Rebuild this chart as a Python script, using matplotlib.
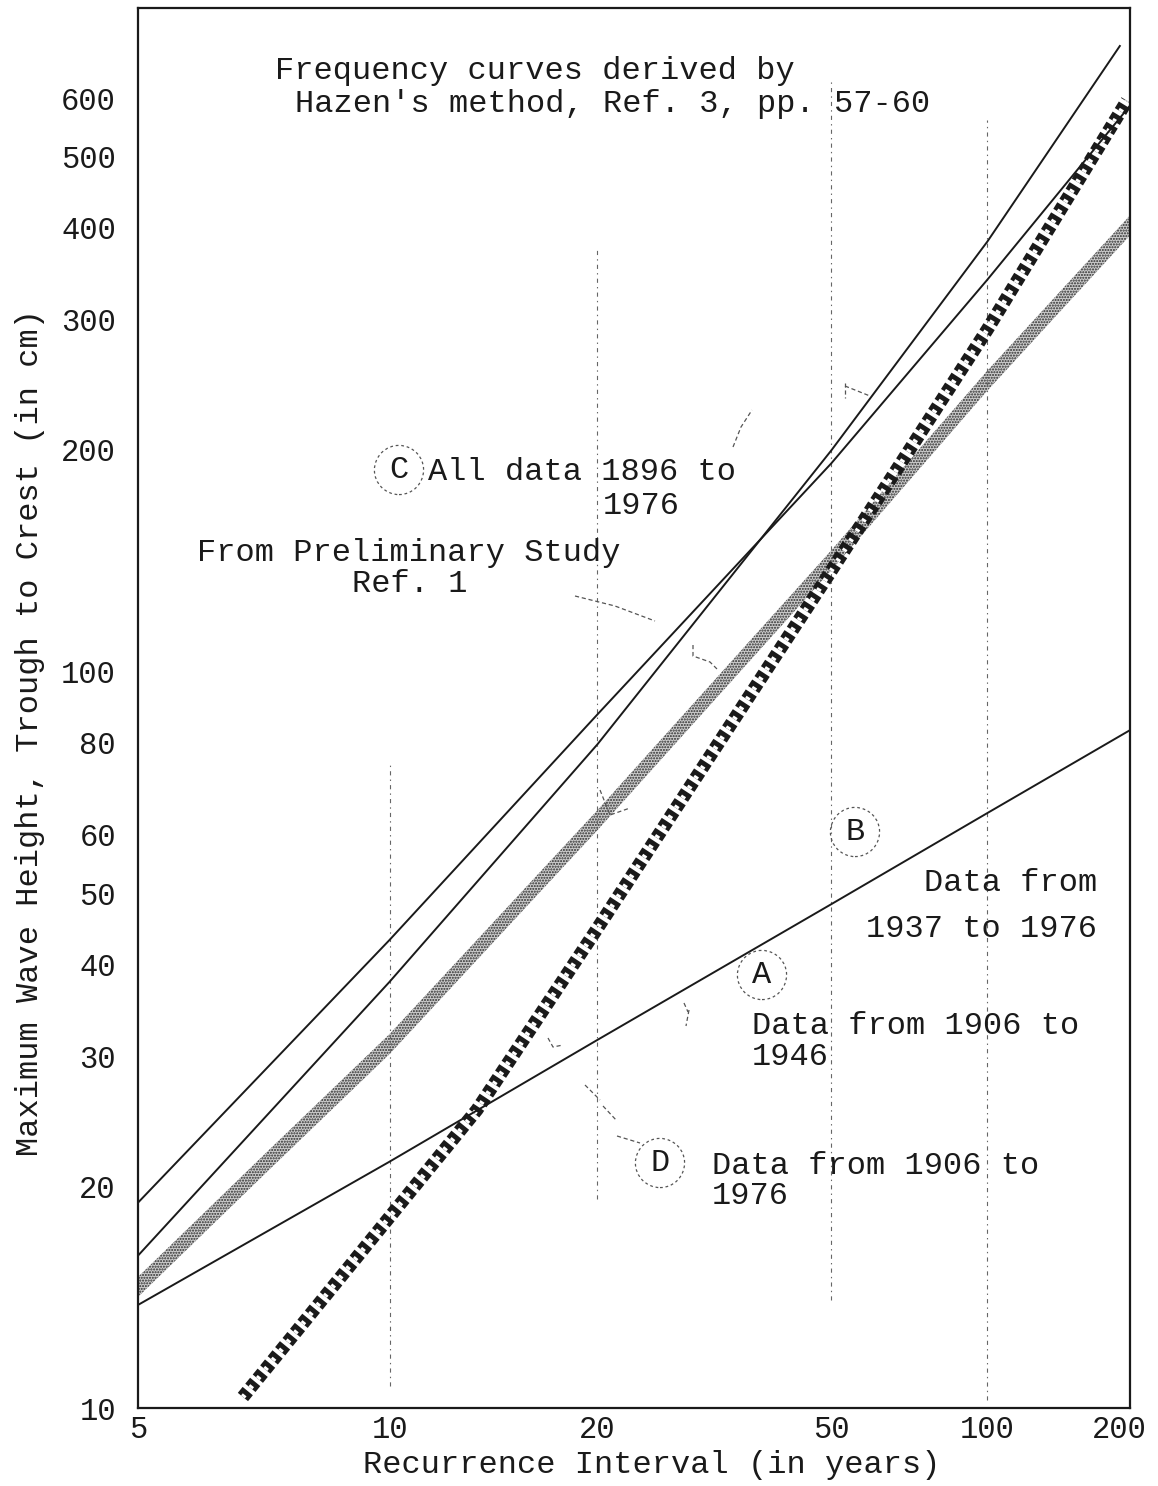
"""Frequency curves of maximum wave height on a normal probability / log grid."""

import math
import numpy as np
import matplotlib
matplotlib.use("Agg")
import matplotlib.pyplot as plt
from matplotlib.lines import Line2D
from matplotlib.transforms import ScaledTranslation

plt.rcParams["font.family"] = ["Liberation Mono", "DejaVu Sans Mono"]
plt.rcParams["lines.scale_dashes"] = False

# values (recurrence interval in years, height in cm)
t_c1 = [5, 10, 20, 50, 100, 200]
h_c1 = [19.0, 43.2, 87.4, 191.6, 340, 586]

t_c2 = [5, 10, 20, 50, 100, 190]
h_c2 = [16.1, 37.9, 79.6, 199.5, 383, 706]

t_stip = [5, 7, 10, 20, 50, 100, 200]
h_stip = [14.6, 21.6, 31.2, 62.8, 141.5, 248, 403]

t_lad = [6.55, 13.2, 20, 50, 100, 197]
h_lad = [10.35, 25.4, 44.8, 137, 291, 595]

t_b = [5, 10, 20, 50, 100, 200]
h_b = [13.8, 21.6, 31.6, 48.3, 64.2, 83.2]

xticks = [5, 10, 20, 50, 100, 200]
yticks = [10, 20, 30, 40, 50, 60, 80, 100, 200, 300, 400, 500, 600]


def norm_ppf(p):
    # Acklam's rational approximation
    a = [-3.969683028665376e+01, 2.209460984245205e+02, -2.759285104469687e+02,
         1.383577518672690e+02, -3.066479806614716e+01, 2.506628277459239e+00]
    b = [-5.447609879822406e+01, 1.615858368580409e+02, -1.556989798598866e+02,
         6.680131188771972e+01, -1.328068155288572e+01]
    c = [-7.784894002430293e-03, -3.223964580411365e-01, -2.400758277161838e+00,
         -2.549732539343734e+00, 4.374664141464968e+00, 2.938163982698783e+00]
    d = [7.784695709041462e-03, 3.224671290700398e-01, 2.445134137142996e+00,
         3.754408661907416e+00]
    p = np.clip(np.asarray(p, dtype=float), 1e-12, 1 - 1e-12)
    plow = 0.02425
    out = np.empty_like(p)
    lo = p < plow
    hi = p > 1 - plow
    mid = ~(lo | hi)
    q = np.sqrt(-2 * np.log(p[lo]))
    out[lo] = (((((c[0]*q+c[1])*q+c[2])*q+c[3])*q+c[4])*q+c[5]) / \
        ((((d[0]*q+d[1])*q+d[2])*q+d[3])*q+1)
    q = np.sqrt(-2 * np.log(1 - p[hi]))
    out[hi] = -(((((c[0]*q+c[1])*q+c[2])*q+c[3])*q+c[4])*q+c[5]) / \
        ((((d[0]*q+d[1])*q+d[2])*q+d[3])*q+1)
    q = p[mid] - 0.5
    r = q * q
    out[mid] = (((((a[0]*r+a[1])*r+a[2])*r+a[3])*r+a[4])*r+a[5])*q / \
        (((((b[0]*r+b[1])*r+b[2])*r+b[3])*r+b[4])*r+1)
    return out


_erf = np.vectorize(math.erf)


def fwd(t):
    t = np.clip(np.asarray(t, dtype=float), 1.0001, 1e9)
    return norm_ppf(1 - 1 / t)


def inv(z):
    p = 0.5 * (1 + _erf(np.asarray(z, dtype=float) / math.sqrt(2)))
    p = np.clip(p, 1e-12, 1 - 1e-12)
    return 1 / (1 - p)


W, H = 1158, 1486
FS = 23
fig = plt.figure(figsize=(W / 100, H / 100), dpi=100)
ax = fig.add_axes([138 / W, 1 - 1408 / H, (1130 - 138) / W, (1408 - 8) / H])
ax.set_xscale("function", functions=(fwd, inv))
ax.set_yscale("log")
ax.set_xlim(5, 200)
ax.set_ylim(10, 795)

ink = "#1a1a1a"

# faint dash-dot grid remnants
for t, y0, y1 in [(10, 0.016, 0.459), (20, 0.149, 0.827), (50, 0.077, 0.95), (100, 0.006, 0.92)]:
    ax.axvline(t, y0, y1, color="#666666", lw=0.8, dashes=(3, 3, 1, 3))

# stippled band
f = 10 ** (10 / 737)
ax.fill_between(t_stip, np.array(h_stip) / f, np.array(h_stip) * f,
                facecolor="#cccccc", edgecolor="#2a2a2a", hatch="......", linewidth=0)

# ladder band
ax.plot(t_lad, h_lad, color=ink, lw=9.5, dashes=(5.5, 3))
ax.plot(t_lad, h_lad, color="white", lw=3.5, dashes=(2, 6.5))

# solid curves
ax.plot(t_c1, h_c1, color=ink, lw=1.4)
ax.plot(t_c2, h_c2, color=ink, lw=1.4)
ax.plot(t_b, h_b, color=ink, lw=1.4)

ax.set_xticks(xticks)
ax.set_xticklabels([str(v) for v in xticks])
ax.xaxis.set_minor_locator(matplotlib.ticker.NullLocator())
ax.set_yticks(yticks)
ax.set_yticklabels([str(v) for v in yticks])
ax.yaxis.set_minor_locator(matplotlib.ticker.NullLocator())
ax.tick_params(length=0, labelsize=FS - 1, colors=ink)
ax.tick_params(axis="x", pad=5)
ax.tick_params(axis="y", pad=16)
lbl = ax.get_xticklabels()[-1]
lbl.set_transform(lbl.get_transform() + ScaledTranslation(-0.11, 0, fig.dpi_scale_trans))
for s in ax.spines.values():
    s.set_linewidth(1.6)
    s.set_color(ink)

fig.text((368 + 935) / 2 / W, 1 - 1473 / H, "Recurrence Interval (in years)",
         ha="center", va="baseline", fontsize=FS, color=ink)
fig.text(30 / W, 1 - 733 / H, "Maximum Wave Height, Trough to Crest (in cm)",
         ha="center", va="center", rotation=90, fontsize=FS, color=ink)


def put(x, y, s, ha="left", circle=False):
    kw = dict(ha=ha, va="baseline", fontsize=FS, color=ink)
    if circle:
        kw.update(ha="center", va="center",
                  bbox=dict(boxstyle="circle,pad=0.3", fc="none", ec="#555555",
                            lw=0.9, ls=(0, (2, 2))))
    fig.text(x / W, 1 - y / H, s, **kw)


put(275, 79, "Frequency curves derived by")
put(295, 112, "Hazen's method, Ref. 3, pp. 57-60")
put(399, 470, "C", circle=True)
put(428, 480, "All data 1896 to")
put(603, 514, "1976")
put(197, 561, "From Preliminary Study")
put(352, 592, "Ref. 1")
put(855, 832, "B", circle=True)
put(1097, 891, "Data from", ha="right")
put(1097, 937, "1937 to 1976", ha="right")
put(762, 975, "A", circle=True)
put(752, 1034, "Data from 1906 to")
put(752, 1065, "1946")
put(660, 1163, "D", circle=True)
put(712, 1174, "Data from 1906 to")
put(712, 1204, "1976")

# faint hand-drawn leader marks
leaders = [
    [(733, 447), (741, 427), (752, 410)],
    [(845, 383), (845, 398)], [(845, 386), (870, 396)],
    [(575, 596), (615, 606), (655, 621)],
    [(693, 645), (693, 656), (710, 662), (718, 670)],
    [(600, 790), (610, 815), (630, 808)],
    [(684, 1003), (688, 1012)], [(689, 1010), (686, 1026)],
    [(548, 1038), (553, 1047), (563, 1045)],
    [(585, 1085), (600, 1100)], [(603, 1106), (617, 1121)], [(617, 1136), (640, 1143)],
]
for pts in leaders:
    xs = [p[0] / W for p in pts]
    ys = [1 - p[1] / H for p in pts]
    fig.add_artist(Line2D(xs, ys, transform=fig.transFigure, color="#555555",
                          lw=0.9, dashes=(3, 2)))

fig.savefig("out.png", dpi=100)
